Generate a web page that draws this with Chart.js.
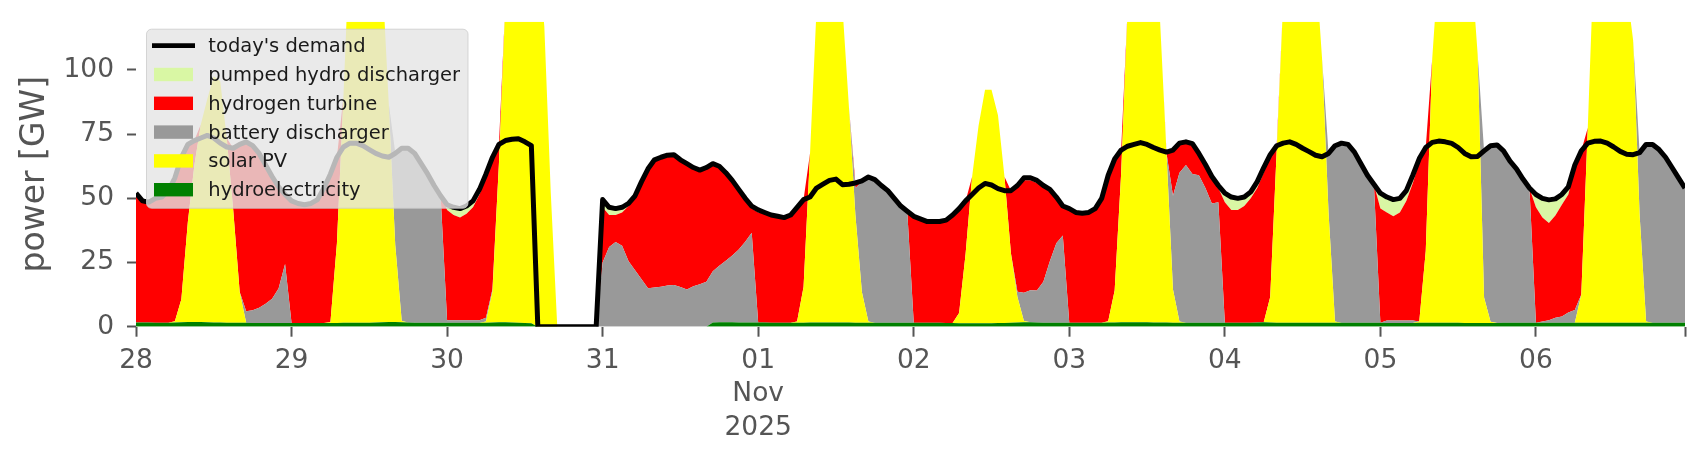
<!DOCTYPE html>
<html>
<head>
<meta charset="utf-8">
<script src="https://cdn.jsdelivr.net/npm/chart.js@4.4.0/dist/chart.umd.min.js"></script>
<style>
  html, body { margin: 0; padding: 0; background: #fff; }
  canvas { display: block; }
</style>
</head>
<body>
<canvas id="chart" width="1706" height="460"></canvas>
<script>
// hourly values, 28 Oct 00:00 .. 6 Nov 23:00 (GW), one line per day
const hydroelectricity = [
  1.6,1.6,1.6,1.5,1.5,1.5,1.6,1.7,1.8,1.8,1.8,1.7,1.6,1.6,1.5,1.5,1.5,1.5,1.4,1.4,1.4,1.4,1.4,1.4,
  1.4,1.4,1.4,1.4,1.4,1.4,1.4,1.4,1.5,1.5,1.5,1.5,1.5,1.6,1.7,1.8,1.8,1.7,1.6,1.5,1.5,1.5,1.5,1.5,
  1.5,1.5,1.5,1.5,1.5,1.5,1.5,1.6,1.7,1.7,1.6,1.5,1.4,1.3,0,0,0,0,0,0,0,0,0,0,
  0,0,0,0,0,0,0,0,0,0,0,0,0,0,0,0,0,1.6,1.7,1.7,1.7,1.6,1.6,1.6,
  1.6,1.6,1.5,1.5,1.5,1.5,1.5,1.5,1.6,1.6,1.6,1.6,1.6,1.6,1.6,1.5,1.5,1.5,1.5,1.5,1.5,1.5,1.5,1.5,
  1.5,1.5,1.5,1.5,1.5,1.4,1.4,1.3,1.3,1.3,1.3,1.3,1.3,1.4,1.4,1.5,1.6,1.7,1.7,1.6,1.5,1.5,1.5,1.5,
  1.5,1.5,1.5,1.5,1.5,1.5,1.6,1.6,1.7,1.7,1.7,1.7,1.7,1.6,1.6,1.6,1.5,1.5,1.5,1.5,1.5,1.5,1.5,1.5,
  1.5,1.5,1.5,1.5,1.5,1.6,1.7,1.6,1.5,1.5,1.5,1.5,1.5,1.5,1.5,1.5,1.5,1.5,1.5,1.5,1.5,1.5,1.5,1.5,
  1.5,1.4,1.4,1.4,1.4,1.4,1.5,1.5,1.5,1.5,1.5,1.5,1.5,1.4,1.4,1.4,1.4,1.4,1.4,1.5,1.5,1.5,1.5,1.5,
  1.5,1.5,1.5,1.5,1.5,1.5,1.5,1.5,1.5,1.5,1.5,1.5,1.5,1.5,1.5,1.5,1.5,1.5,1.5,1.5,1.5,1.5,1.5,1.5
];
const solarPV = [
  0,0,0,0,0,0,0.5,9,39,61,77,87,96,94,72,44,12,0,0,0,0,0,0,0,
  0,0,0,0,0,0,0.3,31,88,150,175,185,180,165,135,85,30,0.5,0,0,0,0,0,0,
  0,0,0,0,0,0,0.5,12,62,125,160,175,170,160,145,117,52,0,0,0,0,0,0,0,
  0,0,0,0,0,0,0,0,0,0,0,0,0,0,0,0,0,0,0,0,0,0,0,0,
  0,0,0,0,0,0,0.5,14,66,122,150,165,160,123,84,42,12,0.5,0,0,0,0,0,0,
  0,0,0,0,0,0,0,4,27,57,77,91,91,81,57,27,10,0.5,0,0,0,0,0,0,
  0,0,0,0,0,0,0.5,12.5,58,122,150,170,170,150,118,66,13,0.5,0,0,0,0,0,0,
  0,0,0,0,0,0,0,10,67,125,160,175,170,160,140,103,43,0.5,0,0,0,0,0,0,
  0,0,0,0,0,0,0.5,28,103,140,165,175,170,160,140,105,10,0.5,0,0,0,0,0,0,
  0,0,0,0,0,0,0,11,76,146,170,175,170,150,130,110,42,0.5,0,0,0,0,0,0
];
const batteryDischarger = [
  0,0,0,0,0,0,0,0,0,0,0,0,0,0,0,0,0,4.5,5,6,7.5,9.5,13.5,23,
  0,0,0,0,0,0,0,0,0,0,0,0,0,0,0,0,36,67.5,68,66,62,58,53.5,49.5,
  1,1,1,1,1,1,1.5,1,0,0,0,0,0,0,0,0,0,0,0,0,0,0,0,0,
  25,31,33,31.5,25.5,22,18.5,15,15.3,15.6,16,16.2,15.5,14.5,15.8,16.5,17.5,20,22,24,26,28.5,31.5,35,
  0,0,0,0,0,0,0,0,0,0,0,0,0,0,0,10.5,43,56.3,55.8,53.5,51.5,48.5,45.5,43.5,
  0,0,0,0,0,0,0,0,0,0,0,0,0,0,0,0,2,11,12.5,12.5,16,24,31,34,
  0,0,0,0,0,0,0,0,0,0,0,0,0,0,0,0,36.5,58,61.5,58,57.5,52.5,46.5,47,
  0,0,0,0,0,0,0,0,0,0,0,0,0,0,0,0,23,68.5,70,69.5,66.5,62,57.5,54,
  0,1,1,1,1,1,0,0,0,0,0,0,0,0,0,0,57,68.5,69.3,67,63,60,56,52.5,
  0,0.5,1,2,2.5,4,5,0,0,0,0,0,0,0,0,0,24.3,69,69.5,67.5,64.5,60.5,56.5,52.5
];
const hydrogenTurbine = [
  50.4,47.4,46.9,48.5,49,51.5,55.9,55.3,30.2,9.7,0,0,0,0,0,24,57.5,66,64.1,60.1,54.1,47.6,39.6,27.1,
  47.6,46.6,46.1,46.6,48.1,52.6,57.8,33.6,0,0,0,0,0,0,0,0,0,0,0,0,0,0,0,0,
  43,41,40,41.5,44,49,54.5,50.4,7.3,0,0,0,0,0,0,0,0,0,0,0,0,0,0,0,
  21.5,12.5,10.5,13,21.5,29,38,46.5,49.7,50.4,50.8,50.8,49.5,49,46.2,44.5,44.5,41.9,38.8,34.3,29.3,23.4,16.9,9.4,
  42.9,42.4,42,41.5,41,42,44.5,34,0,0,0,0,0,0,0,2,0.2,0,0,0,0,0,0,0,
  41.5,40.5,39.5,39.5,39,39.6,41.6,40.7,20.7,0,0,0,0,0,0,24.5,41.4,43.8,42.8,41.9,37.5,28,18,11.5,
  44.5,43,42.7,43,44.5,48.5,56.9,51.2,9.1,0,0,0,0,0,0,0.4,17.8,11.5,9,11.8,8.5,9.2,10.5,5.5,
  47,44,44,45.5,48.5,52.4,58.3,55.4,2,0,0,0,0,0,0,0,0,0,0,0,0,0,0,0,
  44.5,42.1,40.6,42.1,46.6,53.5,62,40.3,0,0,0,0,0,0,0,0,0,0,0,0,0,0,0,0,
  45,40.5,37.9,39.8,43.5,46,55,56,0,0,0,0,0,0,0,0,0,0,0,0,0,0,0,0
];
const pumpedHydroDischarger = [
  0,0,0,0,0,0,0,0,0,0,0,0,0,0,0,0,0,0,0,0,0,0,0,0,
  0,0,0,0,0,0,0,0,0,0,0,0,0,0,0,0,0,0,0,0,0,0,0,0,
  2,3,3.5,3,2.5,2,1.5,1,0,0,0,0,0,0,0,0,0,0,0,0,0,0,0,0,
  3,3,2.5,2,1,0,0,0,0,0,0,0,0,0,0,0,0,0,0,0,0,0,0,1,
  1,0.5,0,0,0,0,0,0,0,0,0,0,0,0,0,0,0,0,0,0,0,0,0,0,
  0,0,0,0,0.5,0.5,0.5,0,0,0,0,0,0,0,0,0,0,1,1,1,0,0,0,0,
  0,0,0,0,0,0,0,0,0,0,0,0,0,0,0,0,0,0,0,0,0,0,0,1,
  3.5,5,4.5,3.5,2.5,2.5,2,0,0,0,0,0,0,0,0,0,0,0,0,0,0,0,0,0,
  6,6,6.5,5.5,4,3,1.5,0,0,0,0,0,0,0,0,0,0,0,0,0,0,0,0,0,
  5,7.5,9,6.5,4,3,1.5,0,0,0,0,0,0,0,0,0,0,0,0,0,0,0,0,0
];
const todaysDemand = [
  52,49,48.5,50,50.5,53,58,66,71,72.5,73.5,74.5,73.5,71.5,70,69.5,71,72,70.5,67.5,63,58.5,54.5,51.5,
  49,48,47.5,48,49.5,54,59.5,66,70,71.5,71.5,70.5,69,67.5,66.5,66,67.5,69.5,69.5,67.5,63.5,59.5,55,51,
  47.5,46.5,46,47,49,53.5,59.5,66,71,72.5,73,73.2,72,70.5,0,0,0,0,0,0,0,0,0,0,
  49.5,46.5,46,46.5,48,51,56.5,61.5,65,66,66.8,67,65,63.5,62,61,62,63.5,62.5,60,57,53.5,50,47,
  45.5,44.5,43.5,43,42.5,43.5,46.5,49.5,50.5,54,55.5,57,57.5,55.3,55.5,56,56.8,58.3,57.3,55,53,50,47,45,
  43,42,41,41,41,41.5,43.5,46,49,51.5,54,55.8,55.2,53.8,53,53,55,58,58,57,55,53.5,50.5,47,
  46,44.5,44.2,44.5,46,50,59,65.3,68.8,70.3,71,71.7,71,69.8,68.8,68,68.8,71.5,72,71.3,67.5,63.2,58.5,55,
  52,50.5,50,50.5,52.5,56.5,62,67,70.5,71.5,72,71,69.5,68.2,66.8,66.2,67.5,70.5,71.5,71,68,63.5,59,55.5,
  52,50.5,49.5,50,53,59,65.5,69.8,71.8,72.3,72,71.4,69.8,67.5,66.2,66.3,68.5,70.5,70.8,68.5,64.5,61.5,57.5,54,
  51.5,50,49.4,49.8,51.5,54.5,63,68.5,71.5,72.2,72.3,71.5,70,68.3,67.2,67,67.8,71,71,69,66,62,58,54
];

// x ticks: one per day (hour offset) plus the last hour
const tickHours = [0, 24, 48, 72, 96, 120, 144, 168, 192, 216, 239];
const tickLabels = ['28', '29', '30', '31', ['01', 'Nov', '2025'], '02', '03', '04', '05', '06', ''];
const yTicks = [0, 25, 50, 75, 100];

const hours = todaysDemand.map((_, i) => i);

Chart.defaults.font.family = "'DejaVu Sans', sans-serif";

const area = (label, data, color) => ({
  label, data,
  backgroundColor: color, borderColor: color,
  borderWidth: 0, pointRadius: 0, fill: '-1',
  stack: 'supply', order: 1
});

// matplotlib style legend drawn over the plot
const legendBox = {
  id: 'legendBox',
  afterDraw(chart) {
    const {ctx, chartArea} = chart;
    const x = chartArea.left + 10.5, y = chartArea.top + 7.5, w = 321.5, h = 179, r = 5;
    ctx.save();
    ctx.beginPath();
    ctx.moveTo(x + r, y);
    ctx.arcTo(x + w, y, x + w, y + h, r);
    ctx.arcTo(x + w, y + h, x, y + h, r);
    ctx.arcTo(x, y + h, x, y, r);
    ctx.arcTo(x, y, x + w, y, r);
    ctx.closePath();
    ctx.fillStyle = 'rgba(229,229,229,0.8)';
    ctx.fill();
    ctx.strokeStyle = 'rgba(204,204,204,0.8)';
    ctx.lineWidth = 1;
    ctx.stroke();

    const sets = chart.data.datasets;
    const items = [sets[5]].concat(sets.slice(0, 5).reverse());
    ctx.font = "19.5px 'DejaVu Sans'";
    ctx.textBaseline = 'alphabetic';
    items.forEach((ds, i) => {
      const cy = y + 16.5 + i * 28.8;
      if (ds.stack === 'demand') {
        ctx.strokeStyle = ds.borderColor;
        ctx.lineWidth = 4.8;
        ctx.beginPath();
        ctx.moveTo(x + 5.5, cy);
        ctx.lineTo(x + 48.5, cy);
        ctx.stroke();
      } else {
        ctx.fillStyle = ds.backgroundColor;
        ctx.fillRect(x + 7.5, cy - 6.7, 39, 13.4);
      }
      ctx.fillStyle = '#1a1a1a';
      ctx.fillText(ds.label, x + 61.8, cy + 6.5);
    });
    ctx.restore();
  }
};

new Chart(document.getElementById('chart'), {
  type: 'line',
  data: {
    labels: hours,
    datasets: [
      Object.assign(area('hydroelectricity', hydroelectricity, '#008000'), {fill: 'origin'}),
      area('solar PV', solarPV, '#ffff00'),
      area('battery discharger', batteryDischarger, '#999999'),
      area('hydrogen turbine', hydrogenTurbine, '#ff0000'),
      area('pumped hydro discharger', pumpedHydroDischarger, '#d9f7a4'),
      {
        label: "today's demand", data: todaysDemand,
        borderColor: '#000000', backgroundColor: '#000000',
        borderWidth: 5, pointRadius: 0, fill: false,
        stack: 'demand', order: 0, borderJoinStyle: 'round'
      }
    ]
  },
  options: {
    responsive: false,
    devicePixelRatio: 1,
    animation: false,
    layout: { padding: { top: 21.7, right: 21, left: 0, bottom: 0 }, autoPadding: false },
    plugins: { legend: { display: false }, tooltip: { enabled: false } },
    elements: { line: { tension: 0 } },
    scales: {
      x: {
        type: 'linear', min: 0, max: 239,
        border: { display: false },
        grid: { drawOnChartArea: false, drawTicks: true, tickLength: 10, tickColor: '#555555', tickWidth: 2 },
        afterBuildTicks: s => { s.ticks = tickHours.map(v => ({ value: v })); },
        afterFit: s => { s.height = 133.3; s.paddingLeft = 0; s.paddingRight = 0; },
        ticks: {
          autoSkip: false, maxRotation: 0, minRotation: 0, padding: 7.6,
          color: '#555555', font: { size: 26.5, lineHeight: 1.26 },
          callback: v => tickLabels[tickHours.indexOf(v)]
        }
      },
      y: {
        stacked: true, min: 0, max: 118.8,
        border: { display: false },
        grid: { drawOnChartArea: false, drawTicks: true, tickLength: 9, tickColor: '#555555', tickWidth: 2 },
        afterBuildTicks: s => { s.ticks = yTicks.map(v => ({ value: v })); },
        afterFit: s => { s.width = 136; s.paddingTop = 0; s.paddingBottom = 0; },
        ticks: { padding: 13, color: '#555555', font: { size: 26.5 } },
        title: {
          display: true, text: 'power [GW]', color: '#555555',
          font: { size: 33 }, padding: { top: 16, bottom: 0 }
        }
      }
    }
  },
  plugins: [legendBox]
});
</script>
</body>
</html>
